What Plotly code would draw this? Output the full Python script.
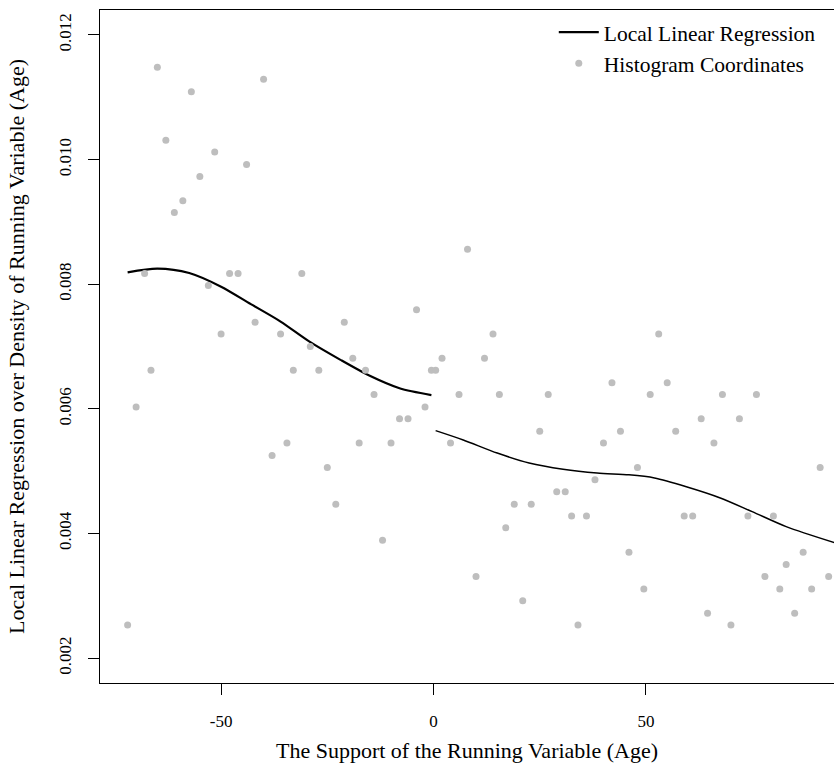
import plotly.graph_objects as go

# Histogram coordinates: bin midpoints of the running variable and their densities
bin_mid = [-72, -70, -68, -66.5, -65, -63, -61, -59, -57, -55, -53, -51.5, -50, -48,
           -46, -44, -42, -40, -38, -36, -34.5, -33, -31, -29, -27, -25, -23, -21,
           -19, -17.5, -16, -14, -12, -10, -8, -6, -4, -2, -0.5, 0.5,
           2, 4, 6, 8, 10, 12, 14, 15.5, 17, 19, 21, 23, 25, 27, 29, 31, 32.5, 34,
           36, 38, 40, 42, 44, 46, 48, 49.5, 51, 53, 55, 57, 59, 61, 63, 64.5, 66,
           68, 70, 72, 74, 76, 78, 80, 81.5, 83, 85, 87, 89, 91, 93]
bin_density = [0.00253, 0.00603, 0.00817, 0.00662, 0.01148, 0.01031, 0.00915, 0.00934,
               0.01109, 0.00973, 0.00798, 0.01012, 0.00720, 0.00817, 0.00817, 0.00992,
               0.00739, 0.01129, 0.00525, 0.00720, 0.00545, 0.00662, 0.00817, 0.00700,
               0.00662, 0.00506, 0.00447, 0.00739, 0.00681, 0.00545, 0.00662, 0.00623,
               0.00389, 0.00545, 0.00584, 0.00584, 0.00759, 0.00603, 0.00662, 0.00662,
               0.00681, 0.00545, 0.00623, 0.00856, 0.00331, 0.00681, 0.00720, 0.00623,
               0.00409, 0.00447, 0.00292, 0.00447, 0.00564, 0.00623, 0.00467, 0.00467,
               0.00428, 0.00253, 0.00428, 0.00486, 0.00545, 0.00642, 0.00564, 0.00370,
               0.00506, 0.00311, 0.00623, 0.00720, 0.00642, 0.00564, 0.00428, 0.00428,
               0.00584, 0.00272, 0.00545, 0.00623, 0.00253, 0.00584, 0.00428, 0.00623,
               0.00331, 0.00428, 0.00311, 0.00350, 0.00272, 0.00370, 0.00311, 0.00506,
               0.00331]

# Local linear regression fit, left and right of the cutoff
fit_left_x = [-72, -65, -57.5, -50, -43, -36, -29, -22, -15, -8, -0.5]
fit_left_y = [0.00819, 0.00825, 0.00818, 0.00796, 0.00768, 0.00740, 0.00707,
              0.00679, 0.00653, 0.00633, 0.00622]
fit_right_x = [0.5, 7, 15, 22.5, 30.5, 38.5, 46, 52, 59.5, 67.5, 75, 83, 94.5]
fit_right_y = [0.00565, 0.00550, 0.00529, 0.00513, 0.00503, 0.00497, 0.00494,
               0.00489, 0.00475, 0.00457, 0.00435, 0.00411, 0.00385]

y_ticks = [0.002, 0.004, 0.006, 0.008, 0.010, 0.012]
x_ticks = [-50, 0, 50]

FONT = "Liberation Serif"

fig = go.Figure()
fig.add_trace(go.Scatter(
    x=fit_left_x, y=fit_left_y, mode="lines", name="Local Linear Regression",
    line=dict(color="black", width=2.2, shape="spline", smoothing=0.8),
    legendgroup="llr", showlegend=True))
fig.add_trace(go.Scatter(
    x=fit_right_x, y=fit_right_y, mode="lines", name="Local Linear Regression",
    line=dict(color="black", width=1.5, shape="spline", smoothing=0.8),
    legendgroup="llr", showlegend=False))
fig.add_trace(go.Scatter(
    x=bin_mid, y=bin_density, mode="markers", name="Histogram Coordinates",
    marker=dict(color="#BEBEBE", size=7, line=dict(width=0))))

fig.update_layout(
    width=834, height=778,
    margin=dict(l=100, r=0, t=10, b=95),
    paper_bgcolor="white", plot_bgcolor="white",
    font=dict(family=FONT, size=17, color="black"),
    showlegend=True,
    legend=dict(x=0.982, y=0.9974, xanchor="right", yanchor="top",
                bgcolor="rgba(0,0,0,0)", font=dict(size=21.5),
                itemwidth=40, tracegroupgap=0),
)
fig.update_xaxes(
    range=[-78.5, 94.26], tickvals=x_ticks, ticktext=[str(v) for v in x_ticks],
    showgrid=False, zeroline=False, showline=True, mirror=True,
    linecolor="black", linewidth=1, ticks="outside", ticklen=11,
    tickcolor="black", ticklabelstandoff=12,
    title=dict(text="The Support of the Running Variable (Age)", standoff=12,
               font=dict(size=22)))
fig.update_yaxes(
    range=[0.0016, 0.0124], tickvals=y_ticks, ticktext=[f"{v:.3f}" for v in y_ticks],
    tickangle=-90, showgrid=False, zeroline=False, showline=True, mirror=False,
    linecolor="black", linewidth=1, ticks="outside", ticklen=11,
    tickcolor="black", ticklabelstandoff=10,
    title=dict(text="Local Linear Regression over Density of Running Variable (Age)",
               standoff=25, font=dict(size=22)))

fig.write_html("out.html")
